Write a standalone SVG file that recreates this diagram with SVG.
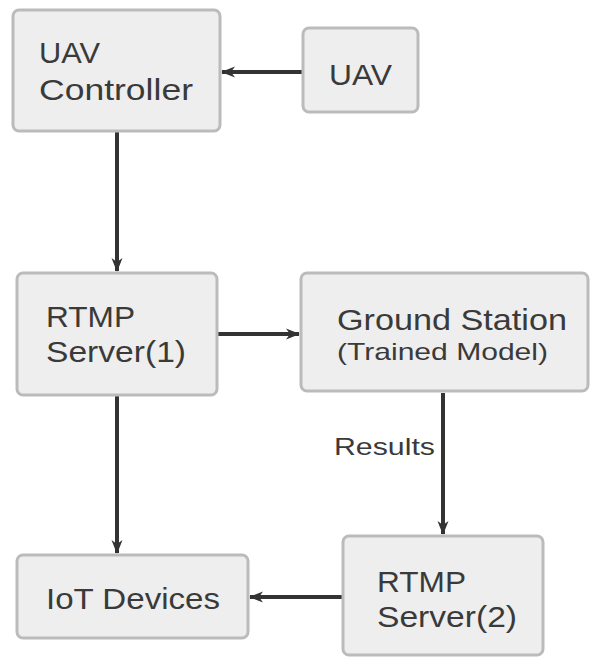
<svg xmlns="http://www.w3.org/2000/svg" width="597" height="657" viewBox="0 0 597 657">
<defs>
<marker id="ah" viewBox="0 0 14 12" refX="13" refY="6" markerWidth="14" markerHeight="12" markerUnits="userSpaceOnUse" orient="auto">
<path d="M0,0.5 L14,6 L0,11.5 L4,6 Z" fill="#333"/>
</marker>
<style>
.box{fill:#eeeeee;stroke:#bbbbbb;stroke-width:3}
.t{font-family:"Liberation Sans","Open Sans",sans-serif;fill:#3a3a3a}
.l{font-size:29px}
.e{stroke:#333;stroke-width:4;fill:none;marker-end:url(#ah)}
</style>
</defs>
<rect width="597" height="657" fill="#ffffff"/>
<g id="connectors">
<line class="e" x1="302" y1="72" x2="222" y2="72"/>
<line class="e" x1="117" y1="132" x2="117" y2="271"/>
<line class="e" x1="218" y1="334" x2="299" y2="334"/>
<line class="e" x1="443" y1="393" x2="443" y2="534"/>
<line class="e" x1="117" y1="396" x2="117" y2="553"/>
<line class="e" x1="342" y1="597" x2="250" y2="597"/>
<text class="t" x="334" y="455" font-size="24" textLength="101" lengthAdjust="spacingAndGlyphs">Results</text>
</g>
<g id="uav-controller">
<rect class="box" x="13" y="10" width="207" height="121" rx="6"/>
<text class="t l" x="39" y="63" textLength="61" lengthAdjust="spacingAndGlyphs">UAV</text>
<text class="t l" x="39" y="100" textLength="154" lengthAdjust="spacingAndGlyphs">Controller</text>
</g>
<g id="uav">
<rect class="box" x="303" y="28" width="115" height="84" rx="6"/>
<text class="t l" x="329" y="85" textLength="63" lengthAdjust="spacingAndGlyphs">UAV</text>
</g>
<g id="rtmp1">
<rect class="box" x="17" y="273" width="200" height="122" rx="6"/>
<text class="t l" x="46" y="327" textLength="89" lengthAdjust="spacingAndGlyphs">RTMP</text>
<text class="t l" x="46" y="362" textLength="140" lengthAdjust="spacingAndGlyphs">Server(1)</text>
</g>
<g id="ground-station">
<rect class="box" x="301" y="273" width="287" height="118" rx="6"/>
<text class="t l" x="337" y="330" textLength="230" lengthAdjust="spacingAndGlyphs">Ground Station</text>
<text class="t" x="337" y="360" font-size="24" textLength="211" lengthAdjust="spacingAndGlyphs">(Trained Model)</text>
</g>
<g id="rtmp2">
<rect class="box" x="343" y="536" width="200" height="119" rx="6"/>
<text class="t l" x="377" y="592" textLength="89" lengthAdjust="spacingAndGlyphs">RTMP</text>
<text class="t l" x="377" y="627" textLength="140" lengthAdjust="spacingAndGlyphs">Server(2)</text>
</g>
<g id="iot">
<rect class="box" x="17" y="555" width="231" height="83" rx="6"/>
<text class="t l" x="46" y="609" textLength="174" lengthAdjust="spacingAndGlyphs">IoT Devices</text>
</g>
</svg>
